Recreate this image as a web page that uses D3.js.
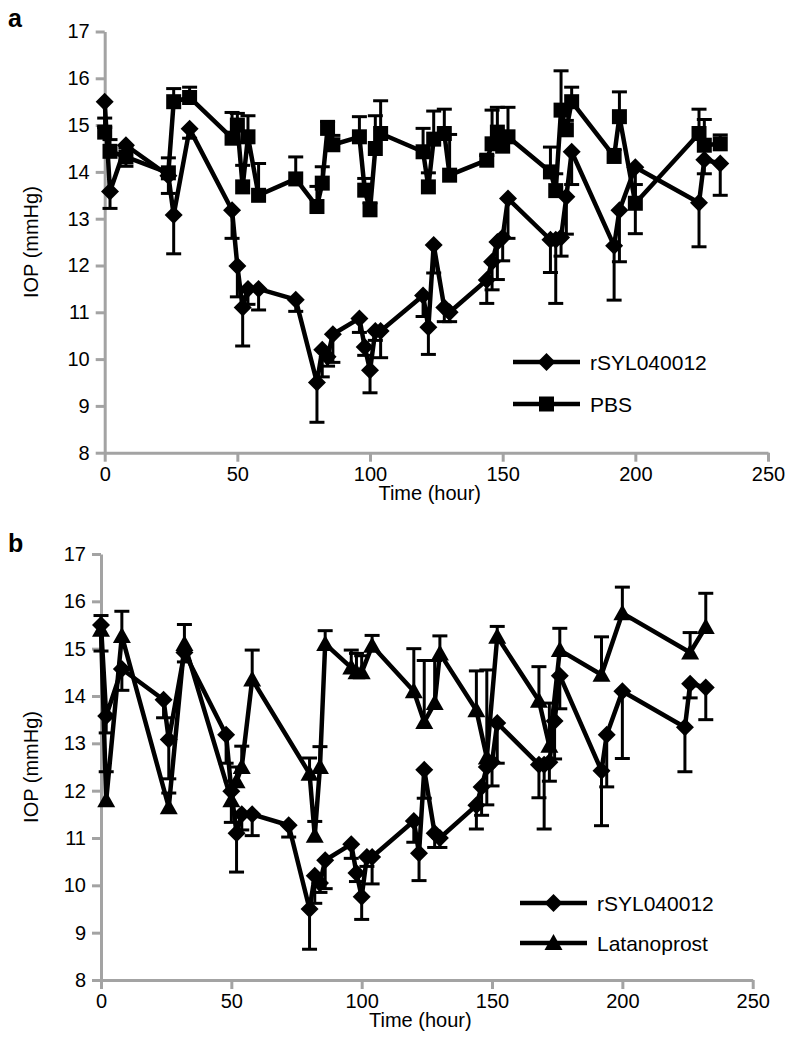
<!DOCTYPE html>
<html><head><meta charset="utf-8">
<script src="https://cdn.jsdelivr.net/npm/d3@7"></script>
<style>
html,body{margin:0;padding:0;background:#fff;}
svg text{font-family:"Liberation Sans",Arial,Helvetica,sans-serif;}
</style></head>
<body>
<svg id="chart" width="789" height="1059"></svg>
<script>
// ---------- DATA ----------
const rsylTimes = [0,2,8,24,26,32,48,50,52,54,58,72,80,82,84,86,96,98,100,102,104,120,122,124,128,130,144,146,148,150,152,168,170,172,174,176,192,194,200,224,226,232];
const rsylValues = [15.5,13.58,14.57,13.92,13.08,14.92,13.18,11.99,11.1,11.5,11.5,11.27,9.5,10.2,10.05,10.53,10.87,10.26,9.76,10.6,10.6,11.36,10.68,12.44,11.1,11.0,11.69,12.08,12.5,12.6,13.43,12.55,12.55,12.6,13.47,14.43,12.42,13.18,14.1,13.34,14.26,14.18];
const rsylErrors = [0.55,0.36,0.45,0.38,0.83,0.2,0.6,0.66,0.82,0.33,0.45,0.25,0.85,0.58,0.2,0.6,0.3,0.18,0.48,0.2,0.57,0.45,0.58,0.6,0.3,0.2,0.5,0.6,0.8,0.5,0.85,0.7,1.36,0.4,0.8,0.7,1.16,1.1,1.42,0.94,0.3,0.68];

const pbsTimes = [0,2,8,24,26,32,48,50,52,54,58,72,80,82,84,86,96,98,100,102,104,120,122,124,128,130,144,146,148,150,152,168,170,172,174,176,192,194,200,224,226,232];
const pbsValues = [14.85,14.44,14.32,13.98,15.5,15.59,14.72,15.0,13.68,14.75,13.5,13.85,13.26,13.76,14.93,14.58,14.75,13.61,13.19,14.5,14.82,14.43,13.68,14.7,14.82,13.93,14.25,14.6,14.85,14.55,14.75,14.0,13.6,15.32,14.9,15.5,14.33,15.18,13.33,14.82,14.57,14.6];
const pbsErrors = [0.3,0.25,0.2,0.32,0.28,0.22,0.55,0.25,0.46,0.45,0.68,0.47,0.43,0.35,0.15,0.2,0.43,0.25,0.15,0.7,0.7,0.5,0.3,0.6,0.52,0.87,0.1,0.72,0.53,0.2,0.63,0.53,0.36,0.84,0.2,0.31,0.15,0.53,0.4,0.52,0.55,0.19];

const latTimes = [0,2,8,26,32,50,52,54,58,80,82,84,86,96,98,100,104,120,124,128,130,144,148,152,168,172,176,192,200,226,232];
const latValues = [15.4,11.8,15.27,11.65,15.1,11.8,12.2,12.5,14.35,12.36,11.05,12.5,15.1,14.6,14.5,14.5,15.06,14.1,13.45,13.85,14.9,13.7,12.7,15.25,13.9,12.95,14.97,14.45,15.75,14.92,15.46];
const latErrors = [0.3,0.6,0.52,0.3,0.41,0.4,0.3,0.44,0.62,0.33,0.3,0.43,0.28,0.37,0.4,0.35,0.22,0.9,1.3,0.9,0.37,0.83,1.85,0.22,0.72,0.9,0.46,0.8,0.55,0.42,0.71];

const yTicks = [8,9,10,11,12,13,14,15,16,17];
const xTicks = [0,50,100,150,200,250];
const panelLabels = ["a","b"];
const legendA = ["rSYL040012","PBS"];
const legendB = ["rSYL040012","Latanoprost"];
const xTitle = "Time (hour)";
const yTitle = "IOP (mmHg)";

// ---------- DRAW ----------
const svg = d3.select("#chart");
const AXIS = "#a3a3a3";

function shapePath(kind){
  if(kind==="diamond") return "M0,-9L9,0L0,9L-9,0Z";
  if(kind==="square") return "M-7.5,-7.5H7.5V7.5H-7.5Z";
  return "M0,-9L9,7H-9Z";
}

function series(g,x,y,times,vals,errs,dir,kind){
  const pts = times.map((t,i)=>({t,v:vals[i],e:errs[i]}));
  const eg = g.append("g");
  pts.forEach(p=>{
    const y2 = y(p.v + dir*p.e);
    eg.append("line").attr("x1",x(p.t)).attr("x2",x(p.t)).attr("y1",y(p.v)).attr("y2",y2)
      .attr("stroke","#000").attr("stroke-width",3);
    eg.append("line").attr("x1",x(p.t)-7.5).attr("x2",x(p.t)+7.5).attr("y1",y2).attr("y2",y2)
      .attr("stroke","#000").attr("stroke-width",3);
  });
  g.append("path").datum(pts)
    .attr("d",d3.line().x(d=>x(d.t)).y(d=>y(d.v)))
    .attr("fill","none").attr("stroke","#000").attr("stroke-width",4.5).attr("stroke-linejoin","round");
  g.append("g").selectAll("path").data(pts).join("path")
    .attr("transform",d=>`translate(${x(d.t)},${y(d.v)})`)
    .attr("d",shapePath(kind)).attr("fill","#000");
}

function panel(cfg){
  const x = d3.scaleLinear().domain([0,250]).range([cfg.x0,cfg.x1]);
  const y = d3.scaleLinear().domain([8,17]).range([cfg.y0,cfg.y1]);
  const g = svg.append("g");

  const ya = g.append("g").attr("transform",`translate(${cfg.x0},0)`)
    .call(d3.axisLeft(y).tickValues(yTicks).tickSize(9).tickSizeOuter(0).tickPadding(6).tickFormat(d3.format("d")));
  const xa = g.append("g").attr("transform",`translate(0,${cfg.y0})`)
    .call(d3.axisBottom(x).tickValues(xTicks).tickSize(9).tickSizeOuter(0).tickPadding(5).tickFormat(d3.format("d")));
  [ya,xa].forEach(a=>{
    a.select(".domain").attr("stroke",AXIS).attr("stroke-width",3);
    a.selectAll(".tick line").attr("stroke",AXIS).attr("stroke-width",3);
    a.selectAll(".tick text").attr("fill","#000").style("font-size","20px");
  });

  g.append("text").attr("x",cfg.x0+ (cfg.x1-cfg.x0)*0.49).attr("y",cfg.y0+47)
    .attr("text-anchor","middle").style("font-size","20px").text(xTitle);
  g.append("text").attr("transform",`translate(38,${(cfg.y0+cfg.y1)/2}) rotate(-90)`)
    .attr("text-anchor","middle").style("font-size","20px").text(yTitle);
  g.append("text").attr("x",8).attr("y",cfg.labelY).style("font-size","25px").style("font-weight","bold").text(cfg.label);

  series(g,x,y,rsylTimes,rsylValues,rsylErrors,-1,"diamond");
  series(g,x,y,cfg.times2,cfg.vals2,cfg.errs2,1,cfg.kind2);

  // legend
  cfg.legend.forEach((name,i)=>{
    const ly = cfg.legY + i*cfg.legGap;
    g.append("line").attr("x1",cfg.legX).attr("x2",cfg.legX+67).attr("y1",ly).attr("y2",ly)
      .attr("stroke","#000").attr("stroke-width",4.5);
    g.append("path").attr("transform",`translate(${cfg.legX+33.5},${ly})`)
      .attr("d",shapePath(i===0?"diamond":cfg.kind2)).attr("fill","#000");
    g.append("text").attr("x",cfg.legX+77).attr("y",ly+8).style("font-size","21px").text(name);
  });
}

panel({x0:104.7,x1:768,y0:452.7,y1:31.5,label:panelLabels[0],labelY:27,
  times2:pbsTimes,vals2:pbsValues,errs2:pbsErrors,kind2:"square",
  legend:legendA,legX:513,legY:362,legGap:42});
panel({x0:101,x1:752.7,y0:980,y1:554,label:panelLabels[1],labelY:552,
  times2:latTimes,vals2:latValues,errs2:latErrors,kind2:"triangle",
  legend:legendB,legX:520,legY:903,legGap:40});
</script>
</body></html>
